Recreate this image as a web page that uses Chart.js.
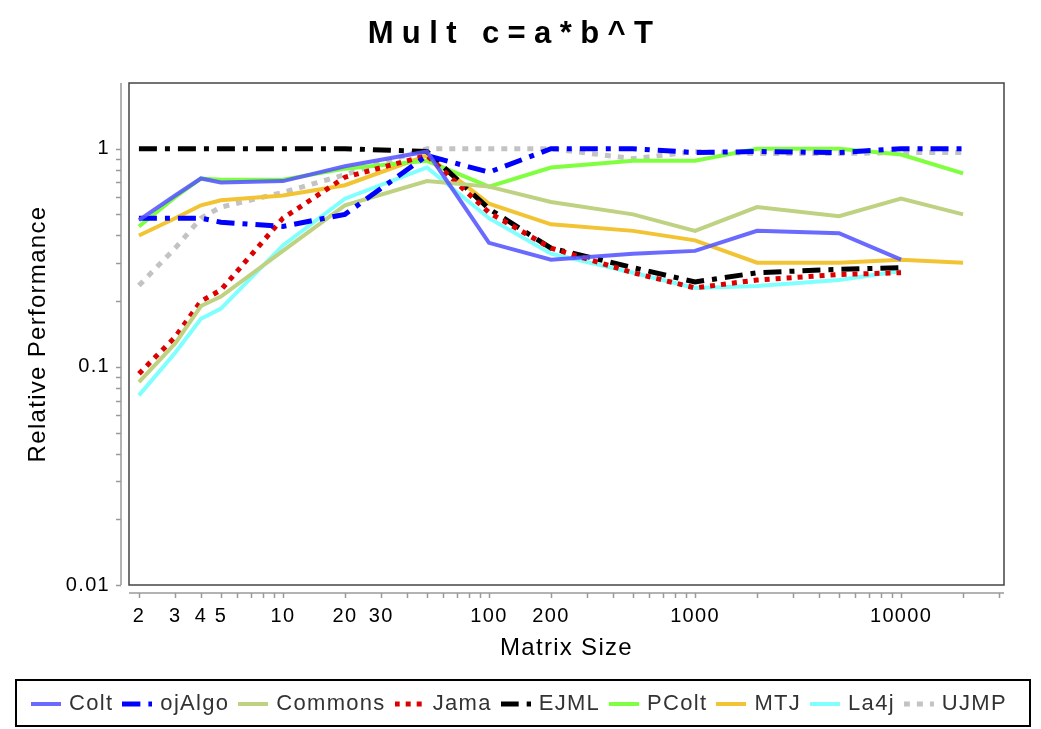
<!DOCTYPE html>
<html>
<head>
<meta charset="utf-8">
<script src="https://cdn.jsdelivr.net/npm/chart.js@4"></script>
<style>
  html, body { margin: 0; padding: 0; background: #fff; }
  #wrap { width: 1041px; height: 729px; }
</style>
</head>
<body>
<div id="wrap"><canvas id="chart" width="1041" height="729"></canvas></div>
<script>
// matrix sizes (x) and relative performance per library
const sizes   = [2, 3, 4, 5, 10, 20, 50, 100, 200, 500, 1000, 2000, 5000, 10000, 20000];
const colt    = [0.47, 0.61, 0.73, 0.70, 0.71, 0.83, 0.97, 0.37, 0.31, 0.33, 0.34, 0.42, 0.41, 0.31, null];
const ojAlgo  = [0.48, 0.48, 0.48, 0.46, 0.44, 0.50, 0.93, 0.78, 1.0, 1.0, 0.96, 0.97, 0.96, 1.0, 1.0];
const commons = [0.085, 0.128, 0.19, 0.21, 0.34, 0.55, 0.71, 0.67, 0.57, 0.50, 0.42, 0.54, 0.49, 0.59, 0.50];
const jama    = [0.093, 0.137, 0.20, 0.225, 0.48, 0.74, 0.93, 0.51, 0.35, 0.27, 0.23, 0.25, 0.265, 0.27, null];
const ejml    = [1.0, 1.0, 1.0, 1.0, 1.0, 1.0, 0.97, 0.53, 0.35, 0.285, 0.245, 0.27, 0.28, 0.285, null];
const pcolt   = [0.44, 0.60, 0.73, 0.72, 0.72, 0.81, 0.88, 0.67, 0.82, 0.88, 0.88, 1.0, 1.0, 0.94, 0.77];
const mtj     = [0.40, 0.48, 0.55, 0.58, 0.61, 0.68, 0.93, 0.56, 0.45, 0.42, 0.38, 0.30, 0.30, 0.31, 0.30];
const la4j    = [0.074, 0.116, 0.166, 0.185, 0.36, 0.59, 0.82, 0.48, 0.33, 0.27, 0.23, 0.235, 0.25, 0.275, null];
const ujmp    = [0.236, 0.35, 0.48, 0.54, 0.63, 0.76, 1.0, 1.0, 1.0, 0.90, 0.97, 0.95, 0.95, 0.96, 0.96];

// tick marks and labels
const xTickMarks = [2, 3, 4, 5, 6, 7, 8, 9, 10, 20, 30, 40, 50, 60, 70, 80, 90,
  100, 200, 300, 400, 500, 600, 700, 800, 900, 1000, 2000, 3000, 4000, 5000, 6000, 7000, 8000, 9000,
  10000, 20000, 30000];
const xLabelValues = [2, 3, 4, 5, 10, 20, 30, 100, 200, 1000, 10000];
const xLabels = ['2', '3', '4', '5', '10', '20', '30', '100', '200', '1000', '10000'];
const yTickMarks = [0.01, 0.02, 0.03, 0.04, 0.05, 0.06, 0.07, 0.08, 0.09,
  0.1, 0.2, 0.3, 0.4, 0.5, 0.6, 0.7, 0.8, 0.9, 1];
const yLabelValues = [0.01, 0.1, 1];
const yLabels = ['0.01', '0.1', '1'];

const FONT = "'Liberation Sans', Arial, sans-serif";

function findLabel(values, labels, v) {
  const i = values.findIndex(t => Math.abs(t - v) / t < 1e-6);
  return i >= 0 ? labels[i] : '';
}

// little line sample for the legend, keeps the dash pattern
function sample(color, width, dash) {
  const c = document.createElement('canvas');
  c.width = 30;
  c.height = 8;
  const g = c.getContext('2d');
  g.strokeStyle = color;
  g.lineWidth = width;
  g.setLineDash(dash || []);
  g.beginPath();
  g.moveTo(0, 4);
  g.lineTo(30, 4);
  g.stroke();
  return c;
}

function line(label, data, color, width, dash) {
  return {
    label: label,
    data: data.map((v, i) => ({ x: sizes[i], y: v })),
    borderColor: color,
    backgroundColor: color,
    borderWidth: width,
    borderDash: dash || [],
    borderCapStyle: 'butt',
    pointRadius: 0,
    pointHoverRadius: 0,
    pointStyle: sample(color, width, dash),
    tension: 0,
    fill: false
  };
}

const framePlugin = {
  id: 'frame',
  afterInit(chart) {
    const tb = chart.titleBlock;
    if (tb && !tb._wrapped) {
      const orig = tb.draw;
      tb.draw = function () {
        const ctx = this.ctx;
        ctx.save();
        ctx.letterSpacing = '8.4px';
        ctx.translate(-6, 0);
        orig.apply(this, arguments);
        ctx.restore();
      };
      tb._wrapped = true;
    }
  },
  beforeLayout(chart) { chart.ctx.letterSpacing = '1.3px'; },
  beforeDraw(chart) { chart.ctx.letterSpacing = '1.3px'; },
  afterDraw(chart) {
    const { ctx, chartArea: a, scales } = chart;
    const x = scales.x, y = scales.y;
    ctx.save();
    // plot frame
    ctx.strokeStyle = '#444';
    ctx.lineWidth = 1.5;
    ctx.strokeRect(a.left, a.top, a.right - a.left, a.bottom - a.top);
    // detached axes
    ctx.strokeStyle = '#9a9a9a';
    ctx.lineWidth = 1.5;
    const yx = a.left - 8;
    ctx.beginPath();
    ctx.moveTo(yx, a.top);
    ctx.lineTo(yx, a.bottom);
    y.ticks.forEach(t => {
      const py = Math.round(y.getPixelForValue(t.value)) + 0.5;
      ctx.moveTo(yx, py);
      ctx.lineTo(yx - 5, py);
    });
    const xy = a.bottom + 8;
    ctx.moveTo(a.left, xy);
    ctx.lineTo(a.right, xy);
    x.ticks.forEach(t => {
      const px = Math.round(x.getPixelForValue(t.value)) + 0.5;
      ctx.moveTo(px, xy);
      ctx.lineTo(px, xy + 5);
    });
    ctx.stroke();
    // legend border
    const lg = chart.legend;
    ctx.strokeStyle = '#000';
    ctx.lineWidth = 2;
    ctx.strokeRect(16, lg.top - 1, 1014, 46);
    ctx.restore();
  }
};

new Chart(document.getElementById('chart'), {
  type: 'line',
  data: {
    datasets: [
      line('Colt', colt, 'rgba(85,85,255,0.88)', 4),
      line('ojAlgo', ojAlgo, '#0000ff', 5, [18, 8, 5, 8]),
      line('Commons', commons, 'rgb(190,210,130)', 4),
      line('Jama', jama, '#dd0000', 5, [5, 6]),
      line('EJML', ejml, '#000000', 5, [18, 8, 5, 8]),
      line('PColt', pcolt, 'rgb(128,255,64)', 4),
      line('MTJ', mtj, 'rgb(242,196,52)', 4),
      line('La4j', la4j, 'rgb(128,255,255)', 4),
      line('UJMP', ujmp, 'rgb(195,195,195)', 5, [6, 7])
    ]
  },
  options: {
    responsive: false,
    animation: false,
    events: [],
    layout: { padding: { left: 0, right: 0, top: 0, bottom: 4 } },
    plugins: {
      title: {
        display: true,
        text: 'Mult c=a*b^T',
        color: '#000',
        font: { family: FONT, size: 31, weight: 'bold' },
        padding: { top: 15.7, bottom: 30.1 }
      },
      legend: {
        position: 'bottom',
        labels: {
          usePointStyle: true,
          pointStyleWidth: 24,
          boxWidth: 24,
          padding: 12,
          color: '#333',
          font: { family: FONT, size: 22 }
        }
      },
      tooltip: { enabled: false }
    },
    scales: {
      x: {
        type: 'logarithmic',
        min: 1.79,
        max: 31600,
        grid: { display: false, drawTicks: false },
        border: { display: false },
        afterBuildTicks: s => { s.ticks = xTickMarks.map(v => ({ value: v })); },
        afterFit: s => { s.height = 96; },
        ticks: {
          autoSkip: false,
          maxRotation: 0,
          padding: 19,
          color: '#000',
          font: { family: FONT, size: 20 },
          callback: v => findLabel(xLabelValues, xLabels, v)
        },
        title: {
          display: true,
          text: 'Matrix Size',
          color: '#000',
          font: { family: FONT, size: 24 },
          padding: { top: 0, bottom: 18.6 }
        }
      },
      y: {
        type: 'logarithmic',
        min: 0.01,
        max: 2,
        grid: { display: false, drawTicks: false },
        border: { display: false },
        afterBuildTicks: s => { s.ticks = yTickMarks.map(v => ({ value: v })); },
        afterFit: s => { s.width = 129; },
        ticks: {
          autoSkip: false,
          padding: 19,
          color: '#000',
          font: { family: FONT, size: 20 },
          callback: v => findLabel(yLabelValues, yLabels, v)
        },
        title: {
          display: true,
          text: 'Relative Performance',
          color: '#000',
          font: { family: FONT, size: 24 },
          padding: { top: 23.6, bottom: 0 }
        }
      },
      // empty right margin so the plot ends where the reference does
      margin: {
        type: 'linear',
        position: 'right',
        display: true,
        grid: { display: false, drawTicks: false },
        border: { display: false },
        ticks: { display: false },
        afterFit: s => { s.width = 37; }
      }
    }
  },
  plugins: [framePlugin]
});
</script>
</body>
</html>
